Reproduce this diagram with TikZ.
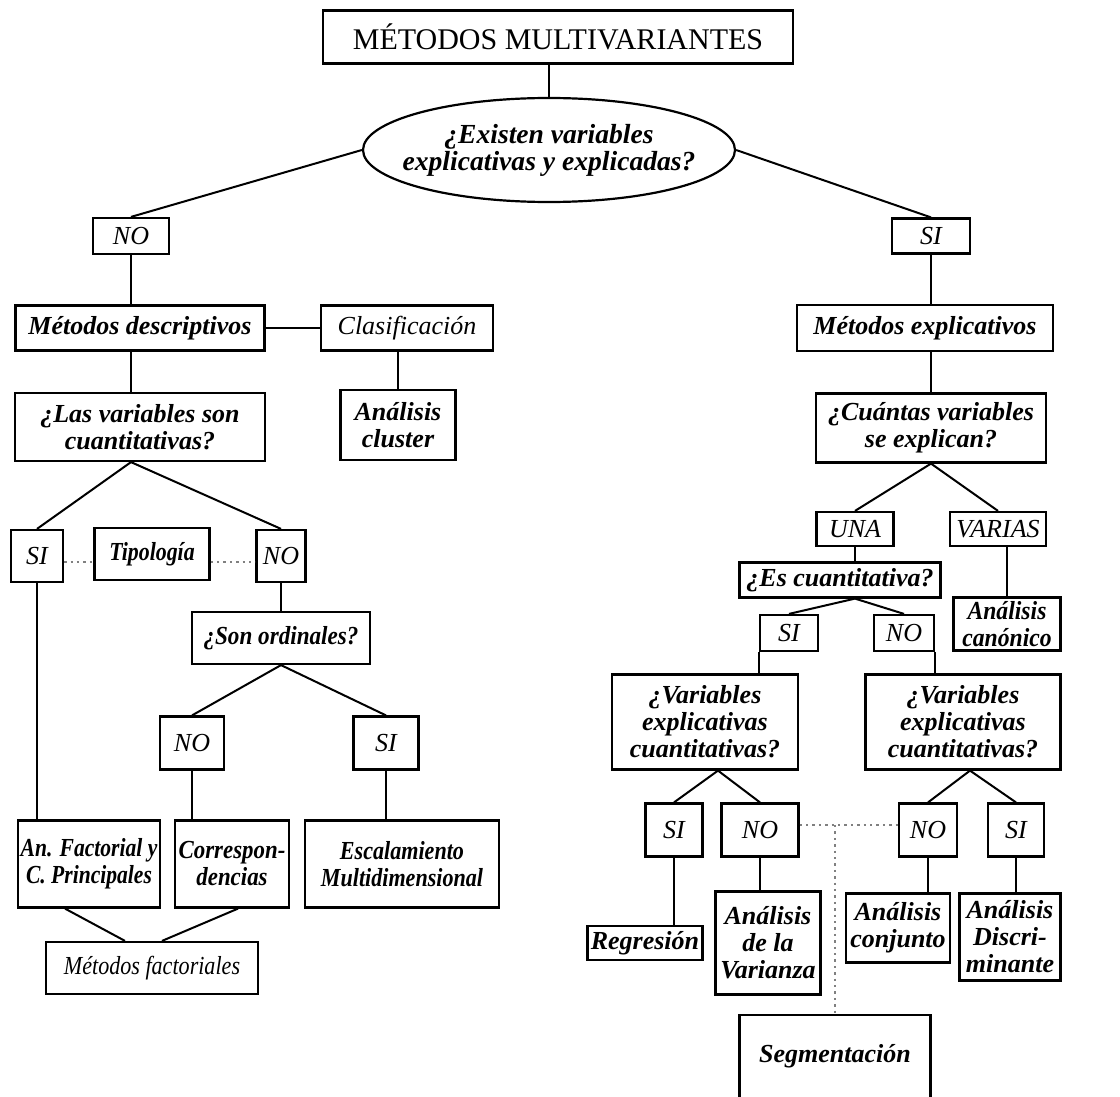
\documentclass[tikz,border=0pt]{standalone}
\usepackage{fontspec}
\usepackage{graphicx}
\setmainfont{Liberation Serif}
\usetikzlibrary{calc,shapes,positioning}
\newcommand{\hsq}[2]{\scalebox{#1}[1]{#2}}

\begin{document}
\begin{tikzpicture}[x=0.5pt,y=-0.5pt]
     \useasboundingbox (0,0) rectangle (1120,1097);
     \tikzstyle{every node}=[draw,line width=1.1pt,inner sep=1pt,align=center,font=\bfseries\itshape\fontsize{13}{13.5}\selectfont]
     \tikzstyle{lab}=[font=\itshape\fontsize{13}{13.5}\selectfont]
     \tikzstyle{conn}=[line width=1pt]
     \tikzstyle{dots}=[gray,dotted,line width=1.2pt]

     % top
     \node at (558,37)[font=\fontsize{15}{17}\selectfont,minimum width=235pt,minimum height=26.5pt](title){MÉTODOS MULTIVARIANTES};
     \node at (549,150)[ellipse,minimum width=186pt,minimum height=52pt](quest){};
     \node at (quest)[draw=none,font=\bfseries\itshape\fontsize{13.8}{13.5}\selectfont](questtxt){¿Existen variables\\explicativas y explicadas?};
     \node at (131,236)[lab,minimum width=38pt,minimum height=18pt](no1){NO};
     \node at (931,236)[lab,minimum width=39pt,minimum height=17.5pt](si1){SI};

     % descriptive side
     \node at (140,328)[minimum width=124.5pt,minimum height=22.5pt](desc){Métodos descriptivos};
     \node at (407,328)[lab,minimum width=86pt,minimum height=22.5pt](clasif){Clasificación};
     \node at (398,425)[minimum width=57.5pt,minimum height=35pt](cluster){Análisis\\cluster};
     \node at (140,427)[minimum width=125pt,minimum height=34pt](lasvar){¿Las variables son\\cuantitativas?};
     \node at (37,556)[lab,minimum width=26pt,minimum height=26pt](si2){SI};
     \node at (152,554)[minimum width=57.5pt,minimum height=26pt](tipo){\hsq{0.84}{Tipología}};
     \node at (281,556)[lab,minimum width=24.5pt,minimum height=26pt](no2){NO};
     \node at (281,638)[minimum width=89pt,minimum height=26pt](ordin){\hsq{0.89}{¿Son ordinales?}};
     \node at (192,743)[lab,minimum width=32pt,minimum height=26.5pt](no3){NO};
     \node at (386,743)[lab,minimum width=32.5pt,minimum height=26.5pt](si3){SI};
     \node at (89,864)[minimum width=71pt,minimum height=43.5pt](anfac){\hsq{0.83}{An. Factorial y}\\\hsq{0.83}{C. Principales}};
     \node at (232,864)[minimum width=57pt,minimum height=43.5pt](corres){\hsq{0.88}{Correspon-}\\\hsq{0.88}{dencias}};
     \node at (402,864)[minimum width=97pt,minimum height=43.5pt](escal){\hsq{0.85}{Escalamiento}\\\hsq{0.85}{Multidimensional}};
     \node at (152,968)[lab,minimum width=106pt,minimum height=26pt](metfac){\hsq{0.85}{Métodos factoriales}};

     % explicative side
     \node at (925,328)[minimum width=128pt,minimum height=23pt](expl){Métodos explicativos};
     \node at (931,428)[minimum width=115pt,minimum height=34.5pt](cuant){¿Cuántas variables\\se explican?};
     \node at (855,529)[lab,minimum width=38.5pt,minimum height=17pt](una){UNA};
     \node at (998,529)[lab,minimum width=48pt,minimum height=17pt](varias){VARIAS};
     \node at (840,580)[minimum width=100.5pt,minimum height=17.5pt](escuant){¿Es cuantitativa?};
     \node at (1007,624)[minimum width=53.5pt,minimum height=26.5pt](canon){\hsq{0.91}{Análisis}\\\hsq{0.91}{canónico}};
     \node at (789,633)[lab,minimum width=29pt,minimum height=18pt](si4){SI};
     \node at (904,633)[lab,minimum width=30pt,minimum height=18pt](no4){NO};
     \node at (705,722)[minimum width=93pt,minimum height=47.5pt](varL){¿Variables\\explicativas\\cuantitativas?};
     \node at (963,722)[minimum width=97.5pt,minimum height=47.5pt](varR){¿Variables\\explicativas\\cuantitativas?};
     \node at (674,830)[lab,minimum width=28.5pt,minimum height=26.5pt](si5){SI};
     \node at (760,830)[lab,minimum width=38.5pt,minimum height=26.5pt](no5){NO};
     \node at (928,830)[lab,minimum width=29pt,minimum height=26.5pt](no6){NO};
     \node at (1016,830)[lab,minimum width=28pt,minimum height=26.5pt](si6){SI};
     \node at (645,943)[minimum width=57.5pt,minimum height=17pt](regr){Regresión};
     \node at (768,943)[minimum width=52.5pt,minimum height=51.5pt](anvar){Análisis\\de la\\Varianza};
     \node at (898,928)[minimum width=52pt,minimum height=34.5pt](conj){Análisis\\conjunto};
     \node at (1010,937)[minimum width=50.5pt,minimum height=43.5pt](discr){Análisis\\Discri-\\minante};
     \node at (835,1062)[anchor=base,minimum width=95.5pt,text height=23.5pt,text depth=28pt,inner sep=0pt](segm){Segmentación};

     % connectors
     \path[conn](title.south-|quest)edge(quest.north);
     \path[conn](quest.west)edge(no1.north);
     \path[conn](quest.east)edge(si1.north);
     \path[conn](no1.south)edge(desc.north-|no1);
     \path[conn](desc.east)edge(clasif.west);
     \path[conn](desc.south-|no1)edge(lasvar.north-|no1);
     \path[conn](clasif.south-|cluster)edge(cluster.north);
     \path[conn](si1.south)edge(expl.north-|si1);
     \path[conn](expl.south-|si1)edge(cuant.north);
     \path[conn](lasvar.south-|no1)edge(si2.north)edge(no2.north);
     \path[conn](si2.south)edge(anfac.north-|si2);
     \path[conn](no2.south)edge(ordin.north-|no2);
     \path[conn](ordin.south)edge(no3.north)edge(si3.north);
     \path[conn](no3.south)edge(corres.north-|no3);
     \path[conn](si3.south)edge(escal.north-|si3);
     \path[conn]($(anfac.south)+(-24,0)$)edge($(metfac.north)+(-27,0)$);
     \path[conn]($(corres.south)+(6,0)$)edge($(metfac.north)+(10,0)$);
     \path[conn](cuant.south)edge(una.north)edge(varias.north);
     \path[conn](una.south)edge(escuant.north-|una);
     \path[conn](varias.south-|canon)edge(canon.north);
     \path[conn](escuant.south-|una)edge(si4.north)edge(no4.north);
     \path[conn](si4.south west)edge(varL.north-|si4.south west);
     \path[conn](no4.south east)edge(varR.north-|no4.south east);
     \path[conn]($(varL.south)+(13,0)$)edge(si5.north)edge(no5.north);
     \path[conn]($(varR.south)+(7,0)$)edge(no6.north)edge(si6.north);
     \path[conn](si5.south)edge(regr.north-|si5);
     \path[conn](no5.south)edge(anvar.north-|no5);
     \path[conn](no6.south)edge(conj.north-|no6);
     \path[conn](si6.south)edge(discr.north-|si6);
     \path[dots]($(si2.east)+(0,6)$)edge($(tipo.west)+(0,8)$);
     \path[dots]($(tipo.east)+(0,8)$)edge($(no2.west)+(0,6)$);
     \path[dots]($(no5.east)+(0,-5)$)edge($(no6.west)+(0,-5)$);
     \path[dots]($(segm.north|-no5.east)+(0,-5)$)edge(segm.north);

\end{tikzpicture}
\end{document}
